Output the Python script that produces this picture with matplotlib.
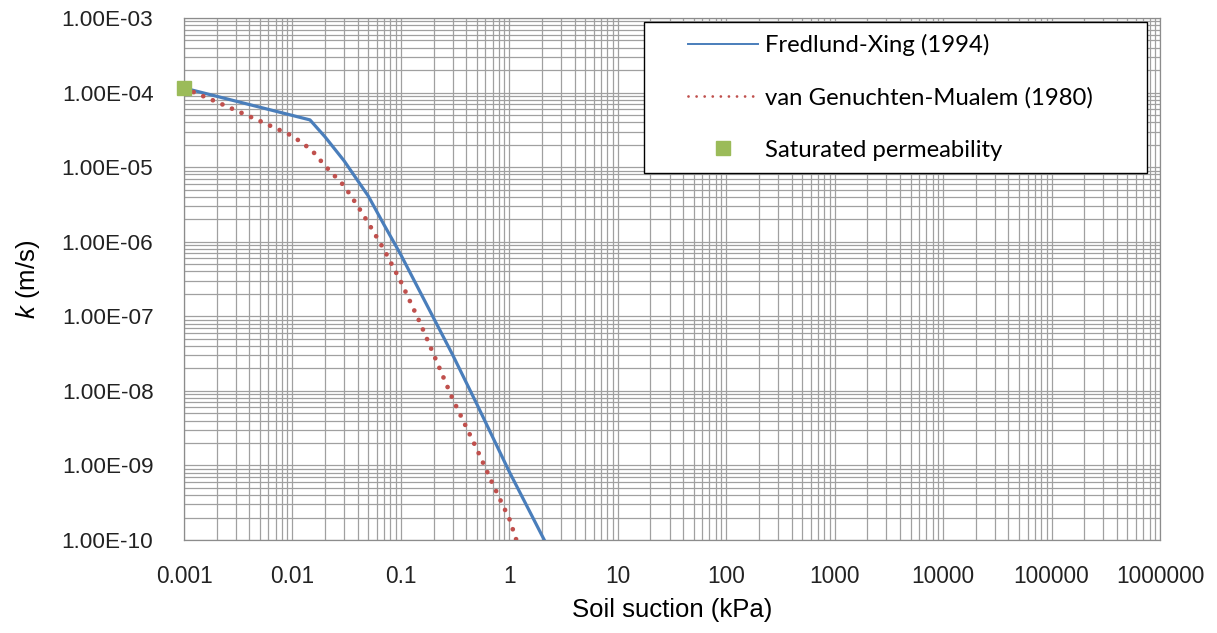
import numpy as np
import matplotlib
matplotlib.use("Agg")
import matplotlib.pyplot as plt
import matplotlib.ticker as ticker
from matplotlib.lines import Line2D
from matplotlib.legend_handler import HandlerLine2D

plt.rcParams["font.family"] = ["Liberation Sans", "DejaVu Sans"]
plt.rcParams["mathtext.fontset"] = "custom"
plt.rcParams["mathtext.it"] = "Liberation Sans:italic"
plt.rcParams["mathtext.rm"] = "Liberation Sans"

# Fredlund-Xing (1994) permeability function
fx_suction = [0.001, 0.0145, 0.02, 0.03, 0.05, 0.07, 0.1, 0.2, 0.3, 0.5, 1.0, 2.1]
fx_k = [1.15e-4, 4.3e-5, 2.54e-5, 1.21e-5, 4.1e-6, 1.68e-6, 6.65e-7, 9.5e-8,
        3.04e-8, 6.7e-9, 8.2e-10, 1.0e-10]

# van Genuchten-Mualem (1980) permeability function
vg_suction = [0.001, 0.002, 0.005, 0.01, 0.015, 0.02, 0.03, 0.04, 0.05, 0.07,
              0.1, 0.15, 0.2, 0.3, 0.5, 0.7, 1.0, 1.16]
vg_k = [1.15e-4, 7.5e-5, 4.16e-5, 2.62e-5, 1.70e-5, 1.04e-5, 5.6e-6, 3.0e-6,
        1.79e-6, 7.8e-7, 2.9e-7, 8.2e-8, 3.1e-8, 7.8e-9, 1.67e-9, 5.7e-10,
        1.92e-10, 1.0e-10]

# saturated permeability
ksat_suction = [0.001]
ksat = [1.15e-4]

x_ticks = [1e-3, 1e-2, 1e-1, 1, 10, 100, 1e3, 1e4, 1e5, 1e6]
x_ticklabels = ["0.001", "0.01", "0.1", "1", "10", "100", "1000", "10000",
                "100000", "1000000"]

BLUE = "#4a7ebb"
RED = "#c0504d"
GREEN = "#9bbb59"
GRID = "#a0a0a0"

fig = plt.figure(figsize=(12.17, 6.33), dpi=100)
ax = fig.add_axes([0.1512, 0.1469, 0.8020, 0.8247])

ax.plot(fx_suction, fx_k, color=BLUE, lw=2.3, zorder=3)
ax.plot(vg_suction, vg_k, color=RED, lw=3.4, dashes=(0.01, 2.2),
        dash_capstyle="round", zorder=3)
ax.plot(ksat_suction, ksat, ls="none", marker="s", ms=10, color=GREEN,
        zorder=4, clip_on=False)

ax.set_xscale("log")
ax.set_yscale("log")
ax.set_xlim(1e-3, 1e6)
ax.set_ylim(1e-10, 1e-3)

ax.xaxis.set_major_locator(ticker.FixedLocator(x_ticks))
ax.xaxis.set_major_formatter(ticker.FixedFormatter(x_ticklabels))
ax.xaxis.set_minor_locator(ticker.LogLocator(base=10, subs=np.arange(2, 10), numticks=20))
ax.xaxis.set_minor_formatter(ticker.NullFormatter())
ax.yaxis.set_major_locator(ticker.LogLocator(base=10, numticks=20))
ax.yaxis.set_major_formatter(ticker.FuncFormatter(lambda v, p: f"{v:.2E}"))
ax.yaxis.set_minor_locator(ticker.LogLocator(base=10, subs=np.arange(2, 10), numticks=20))
ax.yaxis.set_minor_formatter(ticker.NullFormatter())

ax.grid(True, which="both", color=GRID, lw=0.9)
ax.set_axisbelow(True)
ax.tick_params(which="both", length=0, colors="#222222")
ax.tick_params(axis="y", labelsize=16.2, pad=22)
ax.tick_params(axis="x", labelsize=16.3, pad=18)
for s in ax.spines.values():
    s.set_color("#8c8c8c")
    s.set_linewidth(0.9)

ax.set_xlabel("Soil suction (kPa)", fontsize=18.5)
ax.set_ylabel(r"$k$ (m/s)", fontsize=18.5)
ax.xaxis.set_label_coords(0.5, -0.112)
ax.yaxis.set_label_coords(-0.146, 0.5)

handles = [
    Line2D([], [], color=BLUE, lw=1.4),
    Line2D([], [], color=RED, lw=2.0, dashes=(0.01, 2.9), dash_capstyle="round"),
    Line2D([], [], ls="none", marker="s", ms=10, color=GREEN),
]
labels = ["Fredlund-Xing (1994)", "van Genuchten-Mualem (1980)",
          "Saturated permeability"]
fs = 17.2
fs_px = fs * 100 / 72
pad_px = 32
hmap = {h: HandlerLine2D(xpad=pad_px / fs_px) for h in handles}
leg = ax.legend(handles, labels, loc="upper left",
                bbox_to_anchor=(644 / 1217, 1 - 22 / 633, 503 / 1217, 0),
                bbox_transform=fig.transFigure, mode="expand",
                borderaxespad=0, prop={"family": "Lato", "size": fs},
                handlelength=(pad_px + 70) / fs_px, handletextpad=0.3,
                labelspacing=1.3, borderpad=0.5, fancybox=False, framealpha=1,
                edgecolor="black", handler_map=hmap)
leg.get_frame().set_linewidth(1.0)

fig.savefig("out.png", dpi=100)
